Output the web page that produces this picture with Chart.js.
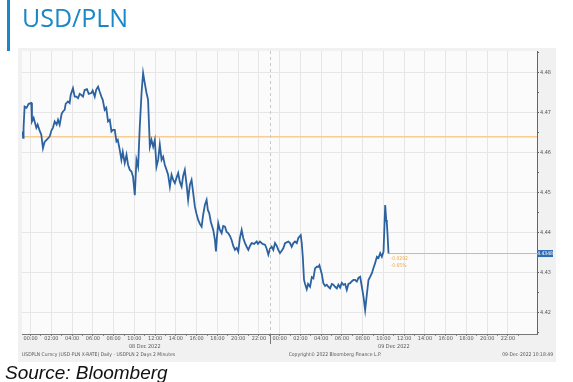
<!DOCTYPE html>
<html>
<head>
<meta charset="utf-8">
<script src="https://cdn.jsdelivr.net/npm/chart.js@4.4.0/dist/chart.umd.min.js"></script>
<style>
body{margin:0;background:#fff;width:573px;height:382px;overflow:hidden;position:relative}
canvas{position:absolute;left:0;top:0}
#bar{position:absolute;left:7px;top:0;width:3px;height:51px;background:#1a87c6}
#title{position:absolute;left:22px;top:0;font:25px "Open Sans",sans-serif;color:#1a87c6}
#source{position:absolute;left:5px;top:362px;font:italic 19px "Liberation Sans",Arial,sans-serif;color:#111}
</style>
</head>
<body>
<canvas id="usdpln" width="573" height="382"></canvas>
<div id="bar"></div>
<div id="title">USD/PLN</div>
<div id="source">Source: Bloomberg</div>
<script>
// hours since 08 Dec 2022 00:00
const hours = [
  -0.80,-0.72,-0.68,-0.58,-0.39,-0.19,0.07,0.13,0.29,0.55,
  0.68,0.87,1.03,1.19,1.35,1.54,1.83,2.03,2.15,2.32,
  2.51,2.64,2.80,2.99,3.12,3.28,3.38,3.60,3.76,3.86,
  4.08,4.25,4.41,4.57,4.73,4.89,5.05,5.21,5.43,5.60,
  5.86,5.98,6.18,6.32,6.50,6.66,6.82,6.95,7.14,7.29,
  7.46,7.63,7.79,7.94,8.11,8.27,8.40,8.59,8.75,8.88,
  9.07,9.24,9.39,9.56,9.72,9.87,10.04,10.20,10.36,10.52,
  10.69,10.84,11.00,11.17,11.32,11.49,11.65,11.81,11.97,12.13,
  12.29,12.45,12.62,12.77,12.93,13.10,13.25,13.42,13.58,13.74,
  13.90,14.06,14.22,14.38,14.55,14.70,14.86,15.03,15.18,15.35,
  15.51,15.67,15.83,15.99,16.15,16.31,16.48,16.63,16.80,16.96,
  17.08,17.21,17.37,17.60,17.76,17.86,17.95,18.08,18.24,18.41,
  18.56,18.73,18.89,19.04,19.21,19.37,19.53,19.69,19.86,20.01,
  20.17,20.34,20.49,20.66,20.82,20.98,21.14,21.30,21.53,21.79,
  21.91,22.10,22.35,22.59,22.75,22.91,23.07,23.23,23.39,23.55,
  23.72,23.87,24.03,24.20,24.35,24.52,24.68,24.84,25.00,25.16,
  25.32,25.48,25.65,25.80,26.03,26.13,26.23,26.28,26.35,26.45,
  26.61,26.74,26.93,27.10,27.25,27.41,27.58,27.73,27.83,28.06,
  28.21,28.38,28.54,28.70,28.86,29.03,29.18,29.34,29.51,29.66,
  29.83,29.99,30.14,30.31,30.47,30.63,30.79,30.96,31.11,31.27,
  31.44,31.59,31.76,31.92,32.08,32.24,32.40,32.56,32.72,32.89,
  33.04,33.20,33.37,33.52,33.69,33.85,34.01,34.17,34.27,34.33,
  34.39,34.49
];
const rates = [
  4.4653,4.4637,4.4662,4.4715,4.4712,4.4722,4.4724,4.4678,4.4687,4.4662,
  4.4670,4.4655,4.4645,4.4611,4.4627,4.4632,4.4640,4.4657,4.4662,4.4678,
  4.4670,4.4682,4.4670,4.4697,4.4703,4.4707,4.4722,4.4728,4.4724,4.4744,
  4.4761,4.4740,4.4740,4.4736,4.4747,4.4744,4.4740,4.4757,4.4759,4.4747,
  4.4749,4.4755,4.4740,4.4757,4.4765,4.4752,4.4740,4.4732,4.4707,4.4712,
  4.4678,4.4682,4.4653,4.4657,4.4657,4.4628,4.4632,4.4607,4.4582,4.4602,
  4.4574,4.4595,4.4570,4.4557,4.4553,4.4540,4.4494,4.4582,4.4565,4.4665,
  4.4749,4.4799,4.4774,4.4749,4.4732,4.4615,4.4632,4.4615,4.4632,4.4565,
  4.4582,4.4620,4.4582,4.4590,4.4570,4.4557,4.4545,4.4515,4.4545,4.4532,
  4.4524,4.4537,4.4549,4.4527,4.4515,4.4542,4.4557,4.4520,4.4482,4.4520,
  4.4532,4.4499,4.4465,4.4447,4.4432,4.4422,4.4415,4.4445,4.4470,4.4482,
  4.4457,4.4449,4.4427,4.4407,4.4382,4.4353,4.4387,4.4424,4.4407,4.4399,
  4.4417,4.4415,4.4402,4.4399,4.4392,4.4382,4.4367,4.4357,4.4362,4.4353,
  4.4387,4.4407,4.4387,4.4374,4.4365,4.4357,4.4367,4.4374,4.4372,4.4378,
  4.4372,4.4378,4.4372,4.4370,4.4360,4.4345,4.4360,4.4365,4.4357,4.4374,
  4.4367,4.4357,4.4349,4.4355,4.4361,4.4374,4.4376,4.4378,4.4374,4.4365,
  4.4374,4.4378,4.4374,4.4387,4.4394,4.4374,4.4340,4.4315,4.4282,4.4272,
  4.4259,4.4272,4.4265,4.4289,4.4286,4.4311,4.4315,4.4315,4.4319,4.4297,
  4.4274,4.4267,4.4270,4.4265,4.4261,4.4272,4.4270,4.4265,4.4261,4.4270,
  4.4263,4.4275,4.4270,4.4272,4.4257,4.4272,4.4274,4.4279,4.4282,4.4282,
  4.4278,4.4287,4.4290,4.4265,4.4240,4.4207,4.4245,4.4282,4.4290,4.4299,
  4.4312,4.4324,4.4340,4.4337,4.4349,4.4340,4.4353,4.4469,4.4432,4.4424,
  4.4399,4.4348
];
const prevClose = 4.4640;
const netChange = '-0.0292';
const pctChange = '-0.65%';

const xTickHours = [0,2,4,6,8,10,12,14,16,18,20,22,24,26,28,30,32,34,36,38,40,42,44,46];
const yTicks = [4.42,4.43,4.44,4.45,4.46,4.47,4.48];
const dayLabels = ['08 Dec 2022','09 Dec 2022'];
const dayCentres = [11,35];
const sessionBreak = 23.1;

const xMin = -0.83, xMax = 48.8;
const yMin = 4.4147, yMax = 4.4854;
const lastRate = rates[rates.length - 1];
const lastHour = hours[hours.length - 1];

const axisFont = '"Liberation Sans Narrow","DejaVu Sans Condensed","Liberation Sans",Arial,sans-serif';
const isMajorY = v => Math.abs(v * 100 - Math.round(v * 100)) < 1e-6;

// panel + plot backgrounds
const background = {
  id: 'background',
  beforeDraw(chart) {
    const c = chart.ctx, a = chart.chartArea;
    c.save();
    c.fillStyle = '#f1f1f1';
    c.fillRect(18, 48, 538, 314);
    c.fillStyle = '#fbfbfb';
    c.fillRect(a.left, a.top, a.right - a.left, a.bottom - a.top);
    c.restore();
  }
};

// session break, last price box, change labels, footer
const overlay = {
  id: 'overlay',
  afterDraw(chart) {
    const c = chart.ctx, a = chart.chartArea;
    const xs = chart.scales.x, ys = chart.scales.y;
    c.save();
    const bx = Math.round(xs.getPixelForValue(sessionBreak)) + 0.5;
    c.strokeStyle = '#c8c8c8';
    c.lineWidth = 1;
    c.setLineDash([3, 3]);
    c.beginPath(); c.moveTo(bx, a.top); c.lineTo(bx, a.bottom); c.stroke();
    c.setLineDash([]);
    c.strokeStyle = '#777';
    c.beginPath(); c.moveTo(bx, a.bottom); c.lineTo(bx, a.bottom + 10); c.stroke();

    const ly = ys.getPixelForValue(lastRate);
    c.fillStyle = '#2f6cb0';
    c.fillRect(a.right, ly - 3.5, 16, 7);
    c.fillStyle = '#fff';
    c.font = '5px ' + axisFont;
    c.textAlign = 'center';
    c.textBaseline = 'middle';
    c.fillText(lastRate.toFixed(4), a.right + 8, ly);

    const lx = xs.getPixelForValue(lastHour);
    c.fillStyle = '#eea645';
    c.textAlign = 'left';
    c.fillText(netChange, lx + 2, ly + 5);
    c.fillText(pctChange, lx + 2, ly + 12);

    c.fillStyle = '#555';
    c.font = '5.5px ' + axisFont;
    c.textAlign = 'center';
    dayLabels.forEach((t, i) => c.fillText(t, xs.getPixelForValue(dayCentres[i]), a.bottom + 13));

    c.font = '5px ' + axisFont;
    c.textAlign = 'left';
    c.fillText('USDPLN Curncy (USD-PLN X-RATE) Daily - USDPLN 2 Days 2 Minutes', 22, 355);
    c.textAlign = 'center';
    c.fillText('Copyright\u00a9 2022 Bloomberg Finance L.P.', 335, 355);
    c.textAlign = 'right';
    c.fillText('09-Dec-2022 10:18:49', 553, 355);
    c.restore();
  }
};

const ctx = document.getElementById('usdpln');
const chart = new Chart(ctx, {
  type: 'line',
  data: {
    datasets: [
      {
        data: hours.map((h, i) => ({x: h, y: rates[i]})),
        borderColor: '#2d62a0',
        borderWidth: 1.8,
        pointRadius: 0,
        order: 0
      },
      {
        data: [{x: xMin, y: prevClose}, {x: xMax, y: prevClose}],
        borderColor: '#f7cd93',
        borderWidth: 1.5,
        pointRadius: 0,
        order: 2
      },
      {
        data: [{x: lastHour, y: lastRate}, {x: xMax, y: lastRate}],
        borderColor: '#f0b45c',
        borderWidth: 1,
        pointRadius: 0,
        order: 1
      }
    ]
  },
  options: {
    responsive: false,
    animation: false,
    events: [],
    layout: {padding: {left: 22, top: 51, right: 0, bottom: 0}, autoPadding: false},
    plugins: {legend: {display: false}, tooltip: {enabled: false}},
    scales: {
      x: {
        type: 'linear',
        min: xMin,
        max: xMax,
        afterFit(s) { s.height = 48; },
        afterBuildTicks(s) {
          const all = [];
          for (let h = 0; h <= 47; h++) all.push({value: h});
          s.ticks = all;
        },
        ticks: {
          autoSkip: false,
          maxRotation: 0,
          padding: -1,
          color: '#555',
          font: {size: 5.5, family: axisFont},
          callback: v => xTickHours.includes(v) ? String(v % 24).padStart(2, '0') + ':00' : ''
        },
        grid: {
          color: c => c.tick && xTickHours.includes(c.tick.value) ? '#e6e6e6' : 'rgba(0,0,0,0)',
          tickColor: '#888',
          tickLength: 2
        },
        border: {color: '#777'}
      },
      y: {
        position: 'right',
        min: yMin,
        max: yMax,
        afterFit(s) { s.width = 36; },
        afterBuildTicks(s) {
          const all = [];
          for (let i = 0; i < yTicks.length; i++) {
            all.push({value: yTicks[i]});
            all.push({value: yTicks[i] - 0.005});
          }
          all.push({value: yTicks[yTicks.length - 1] + 0.005});
          s.ticks = all.sort((p, q) => p.value - q.value);
        },
        ticks: {
          padding: 1,
          color: '#555',
          font: {size: 5.5, family: axisFont},
          callback: v => isMajorY(v) ? v.toFixed(2) : ''
        },
        grid: {
          color: c => c.tick && isMajorY(c.tick.value) ? '#e6e6e6' : 'rgba(0,0,0,0)',
          tickColor: '#666',
          tickLength: 2
        },
        border: {color: '#666'}
      }
    }
  },
  plugins: [background, overlay]
});
</script>
</body>
</html>
